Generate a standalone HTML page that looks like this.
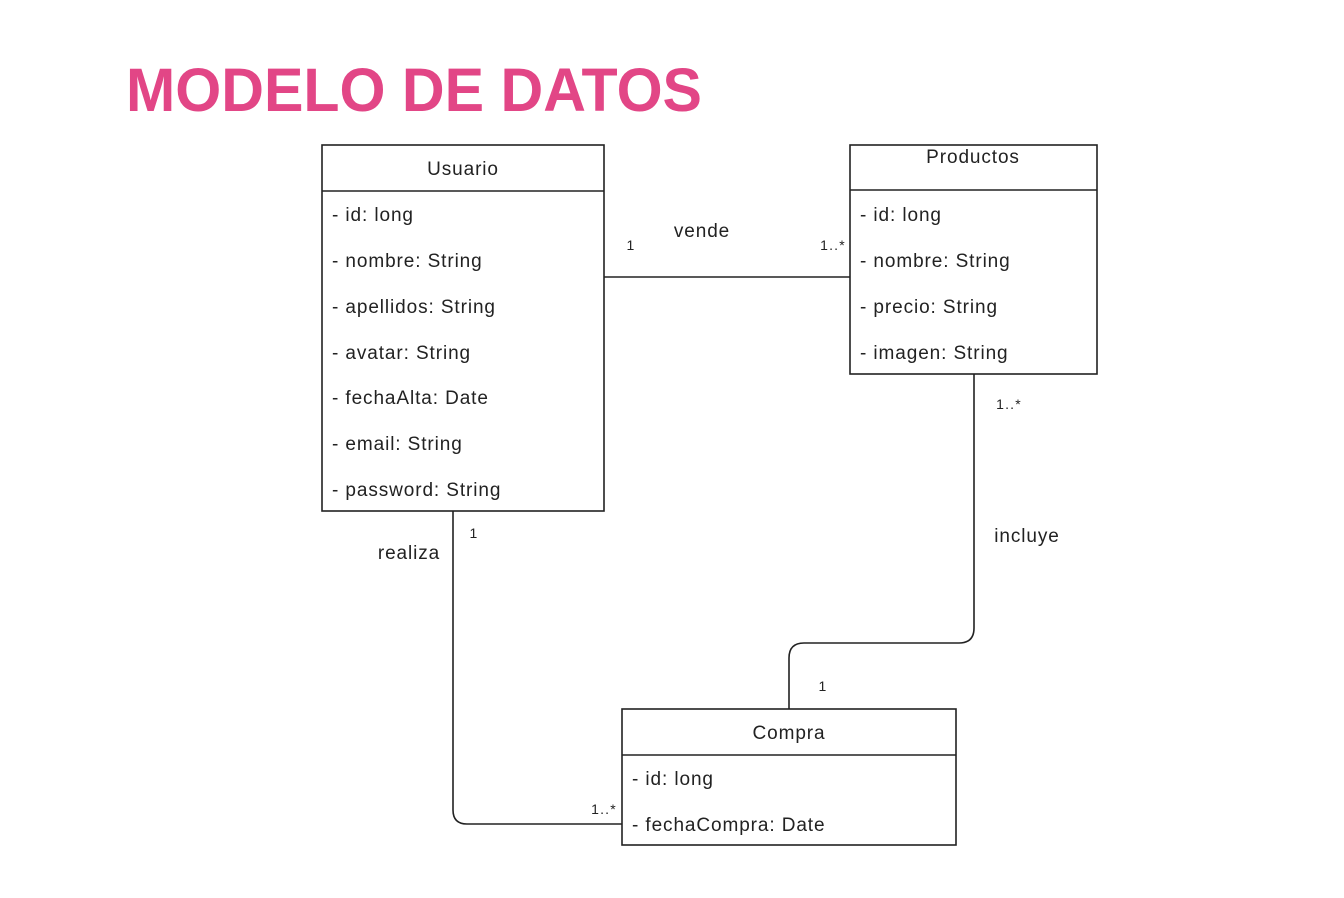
<!DOCTYPE html>
<html><head><meta charset="utf-8"><style>
html,body{margin:0;padding:0;background:#fff;}
svg{display:block;}
text{font-family:"Liberation Sans",Arial,sans-serif;fill:#222;}
.a{font-size:19px;letter-spacing:0.9px;}
.s{font-size:14px;letter-spacing:1.2px;}
</style></head><body>
<svg width="1344" height="898" viewBox="0 0 1344 898" xmlns="http://www.w3.org/2000/svg">
<rect width="1344" height="898" fill="#fff"/>
<text x="126" y="111" font-size="61" font-weight="bold" style="fill:#e24686" textLength="576" lengthAdjust="spacingAndGlyphs">MODELO DE DATOS</text>
<g fill="none" stroke="#222" stroke-width="1.6">
<rect x="322" y="145" width="282" height="366"/>
<line x1="322" y1="191" x2="604" y2="191"/>
<rect x="850" y="145" width="247" height="229"/>
<line x1="850" y1="190" x2="1097" y2="190"/>
<rect x="622" y="709" width="334" height="136"/>
<line x1="622" y1="755" x2="956" y2="755"/>
<line x1="604" y1="277" x2="850" y2="277"/>
<path d="M974 374 V628 Q974 643 959 643 H804 Q789 643 789 658 V709"/>
<path d="M453 511 V810 Q453 824 467 824 H622"/>
</g>
<g class="a">
<text x="463" y="175" text-anchor="middle">Usuario</text>
<text x="332" y="221">- id: long</text>
<text x="332" y="267">- nombre: String</text>
<text x="332" y="313">- apellidos: String</text>
<text x="332" y="359">- avatar: String</text>
<text x="332" y="404">- fechaAlta: Date</text>
<text x="332" y="450">- email: String</text>
<text x="332" y="496">- password: String</text>
<text x="973" y="163" text-anchor="middle">Productos</text>
<text x="860" y="221">- id: long</text>
<text x="860" y="267">- nombre: String</text>
<text x="860" y="313">- precio: String</text>
<text x="860" y="359">- imagen: String</text>
<text x="789" y="739" text-anchor="middle">Compra</text>
<text x="632" y="785">- id: long</text>
<text x="632" y="831">- fechaCompra: Date</text>
<text x="702" y="237" text-anchor="middle">vende</text>
<text x="1027" y="542" text-anchor="middle">incluye</text>
<text x="409" y="559" text-anchor="middle">realiza</text>
</g>
<g class="s">
<text x="631" y="250" text-anchor="middle">1</text>
<text x="833" y="250" text-anchor="middle">1..*</text>
<text x="1009" y="409" text-anchor="middle">1..*</text>
<text x="823" y="691" text-anchor="middle">1</text>
<text x="474" y="538" text-anchor="middle">1</text>
<text x="604" y="814" text-anchor="middle">1..*</text>
</g>
</svg>
</body></html>
